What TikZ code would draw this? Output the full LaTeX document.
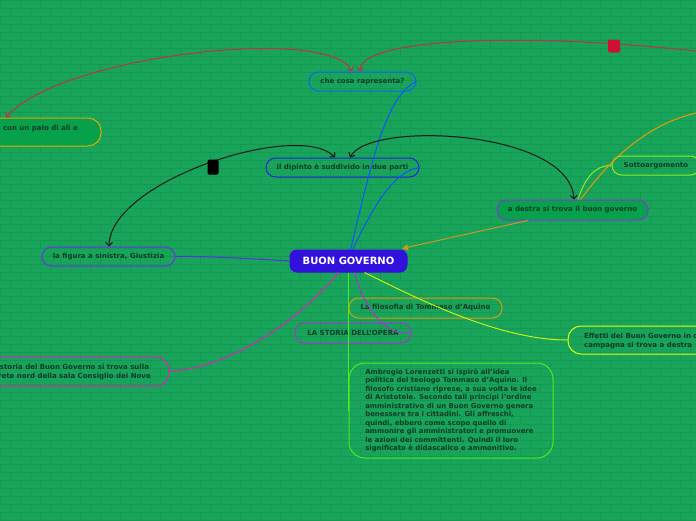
\documentclass[tikz,border=0pt]{standalone}
\usepackage{fontspec}
\setmainfont{DejaVu Sans}
\usetikzlibrary{arrows.meta}
\definecolor{bg}{HTML}{18A45B}
\definecolor{brickc}{HTML}{14994F}
\definecolor{txt}{HTML}{103C27}
\definecolor{redrel}{HTML}{C0304A}
\definecolor{markred}{HTML}{CC1133}
\definecolor{blueA}{HTML}{1166EE}
\definecolor{blueB}{HTML}{2222DD}
\definecolor{blueL}{HTML}{1155FF}
\definecolor{centralc}{HTML}{3311DD}
\definecolor{figc}{HTML}{6633EE}
\definecolor{purpl}{HTML}{5533DD}
\definecolor{destc}{HTML}{8833DD}
\definecolor{sottoc}{HTML}{88EE22}
\definecolor{filoc}{HTML}{DD9911}
\definecolor{storiac}{HTML}{AA33CC}
\definecolor{magc}{HTML}{DD22BB}
\definecolor{effc}{HTML}{DDFF11}
\definecolor{effl}{HTML}{CCEE11}
\definecolor{ambc}{HTML}{44EE22}
\definecolor{orangec}{HTML}{EE9900}
\definecolor{orarrow}{HTML}{CC9922}
\definecolor{paloc}{HTML}{DDAA00}
\definecolor{darkfill}{HTML}{07A04B}
\tikzset{
  brick/.style={brickc, line width=0.5pt},
  box/.style={draw, rounded corners=9.5pt, line width=1pt, text=txt, inner sep=0pt,
    font=\bfseries\fontsize{7}{8.5}\selectfont},
  txtnode/.style={text=txt, inner sep=0pt, align=left, font=\bfseries\fontsize{7}{9}\selectfont},
  rel/.style={line width=1pt, {Straight Barb[length=3.5pt,width=7pt]}-{Straight Barb[length=3.5pt,width=7pt]}},
  conn/.style={line width=1pt},
}
\begin{document}
\begin{tikzpicture}[x=1pt,y=-1pt]
\fill[bg] (0,0) rectangle (696,520);
\useasboundingbox (0,0) rectangle (696,520);
\clip (0,0) rectangle (696,520);
\foreach \r in {0,...,65} {\draw[brick] (0,\r*8) -- (696,\r*8);}
\foreach \r [evaluate=\r as \o using {mod(\r,2)*10}] in {0,...,64} {
  \foreach \c in {0,...,35} {\draw[brick] (\c*20+\o,\r*8) -- (\c*20+\o,\r*8+8);}
}

% nodes
\node[box, draw=centralc, fill=centralc, text=white, rounded corners=7pt,
  minimum width=117pt, minimum height=22pt, font=\bfseries\fontsize{10}{12}\selectfont] (c) at (348.5,261) {BUON GOVERNO};
\node[box, draw=blueA, minimum width=107pt, minimum height=19pt] (che) at (362.5,81.5) {che cosa rapresenta?};
\node[box, draw=blueB, minimum width=153pt, minimum height=19pt] (dip) at (342.5,167.5) {il dipinto è suddivido in due parti};
\node[box, draw=destc, fill=darkfill, minimum width=151pt, minimum height=20pt] (destra) at (572.5,210) {a destra si trova il buon governo};
\node[box, draw=sottoc, minimum width=88pt, minimum height=19pt] (sotto) at (656,165.5) {Sottoargomento};
\node[box, draw=figc, minimum width=133pt, minimum height=19pt] (fig) at (108.5,256.5) {la figura a sinistra, Giustizia};
\node[box, draw=filoc, minimum width=153pt, minimum height=20pt] (filo) at (425.5,308) {La filosofia di Tommaso d'Aquino};
\node[box, draw=storiac, minimum width=116pt, minimum height=20pt] (storia) at (353,333) {LA STORIA DELL'OPERA};

\node[box, draw=paloc, fill=darkfill, rounded corners=13pt, minimum width=201pt, minimum height=28pt] (palo) at (0.5,132) {};
\node[txtnode, anchor=east] (palot) at (78,128.5) {con un palo di ali e};

\node[box, draw=magc, rounded corners=13pt, minimum width=229pt, minimum height=29pt] (lbox) at (54.5,371.5) {};
\node[txtnode, anchor=east] (lboxt) at (151,372) {La storia del Buon Governo si trova sulla\\parete nord della sala Consiglio dei Nove};

\node[box, draw=effc, rounded corners=13pt, minimum width=200pt, minimum height=28pt] (eff) at (668,340) {};
\node[txtnode, anchor=west] (efft) at (584,340.5) {Effetti del Buon Governo in città\\campagna si trova a destra};

\node[box, draw=ambc, rounded corners=16pt, minimum width=204pt, minimum height=95pt,
  align=left, font=\bfseries\fontsize{6.9}{8.5}\selectfont] (amb) at (451,410.5)
 {Ambrogio Lorenzetti si ispirò all'idea\\
  politica del teologo Tommaso d'Aquino. Il\\
  filosofo cristiano riprese, a sua volta le idee\\
  di Aristotele. Secondo tali principi l'ordine\\
  amministrativo di un Buon Governo genera\\
  benessere tra i cittadini. Gli affreschi,\\
  quindi, ebbero come scopo quello di\\
  ammonire gli amministratori e promuovere\\
  le azioni dei committenti. Quindi il loro\\
  significato è didascalico e ammonitivo.};

\coordinate (redend) at (712,53);
\coordinate (orend) at (712,110);

% connectors
\draw[conn, ambc] (c.south) -- (amb.west);
\draw[conn, blueL] ([xshift=2pt]c.north) .. controls (370,170) and (385,95) .. (che.east);
\draw[conn, blueL] ([xshift=4pt]c.north) .. controls (370,215) and (390,172) .. (dip.east);
\draw[conn, purpl] (c.west) .. controls (240,258) and (200,256) .. (fig.east);
\draw[conn, magc] ([xshift=-10pt]c.south) .. controls (300,320) and (230,368) .. (lbox.east);
\draw[conn, storiac] ([xshift=6pt]c.south) .. controls (365,310) and (385,336) .. (storia.east);
\draw[conn, effl] ([xshift=16pt]c.south) .. controls (420,300) and (500,340) .. (eff.west);
\draw[conn, sottoc] ([xshift=5.5pt]destra.north) .. controls (585,178) and (595,165) .. (sotto.west);
\draw[conn, orangec] ([xshift=8pt]destra.north) .. controls (610,160) and (650,118) .. (orend);
\draw[conn, orarrow, -{Triangle[length=6pt,width=6pt]}] ([xshift=-44.5pt]destra.south) -- ([xshift=53.5pt,yshift=1pt]c.north);

% relationships
\draw[rel, redrel] ([xshift=5.5pt]palo.north) .. controls (60,55) and (330,25) .. ([xshift=-10.5pt]che.north);
\draw[conn, redrel, -{Straight Barb[length=3.5pt,width=7pt]}] (redend) .. controls (550,33) and (360,35) .. ([xshift=-2.5pt]che.north);
\draw[rel, black!90] ([xshift=0.5pt]fig.north) .. controls (110,180) and (300,120) .. ([xshift=-7.5pt]dip.north);
\draw[rel, black!90] ([xshift=7.5pt]dip.north) .. controls (370,120) and (570,130) .. ([xshift=1.5pt]destra.north);

\node[fill=markred, rounded corners=2pt, minimum width=12pt, minimum height=13pt, inner sep=0pt] (rm) at (614,46) {};
\node[fill=black, rounded corners=1.5pt, minimum width=11pt, minimum height=15pt, inner sep=0pt] (bm) at (213,167) {};
\end{tikzpicture}
\end{document}
